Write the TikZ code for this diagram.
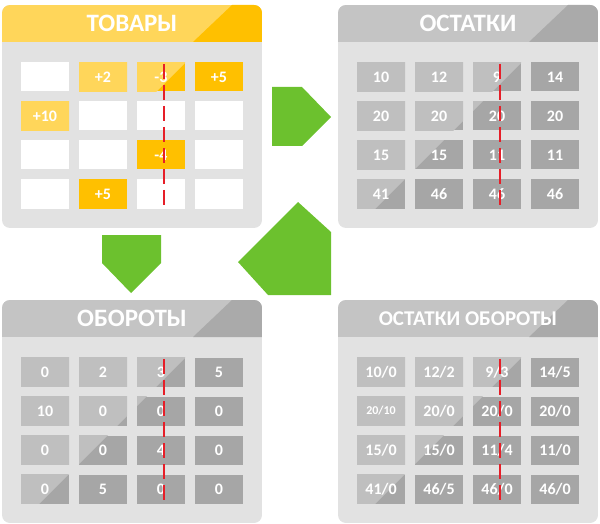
\documentclass[tikz,border=0pt]{standalone}
\usepackage{fontspec}
\setmainfont{Carlito}
\usetikzlibrary{calc}
\definecolor{GoodsLight}{RGB}{255,214,90}
\definecolor{GoodsDark}{RGB}{255,192,0}
\definecolor{PanelBody}{RGB}{226,226,226}
\definecolor{HeadLight}{RGB}{196,196,196}
\definecolor{HeadDark}{RGB}{170,170,170}
\definecolor{CellLight}{RGB}{191,191,191}
\definecolor{CellDark}{RGB}{166,166,166}
\definecolor{TurnGreen}{RGB}{108,193,46}
\definecolor{CutRed}{RGB}{230,30,40}
\tikzset{
	paneltitle/.style={text=white,inner sep=0pt,font=\bfseries\fontsize{25}{25}\selectfont},
	cellbase/.style={rectangle,minimum width=48pt,minimum height=29pt,inner sep=0pt,
		text=white,font=\bfseries\fontsize{16}{16}\selectfont},
	graycell/.style={cellbase,fill=CellDark,
		path picture={\fill[CellLight] (g0) -- (g1) -- (g2) -- cycle;}},
	goodscell/.style={cellbase,fill=GoodsDark,
		path picture={\fill[GoodsLight] (g0) -- (g1) -- (g2) -- cycle;}},
	blankcell/.style={cellbase,fill=white},
	cutline/.style={draw=CutRed,line width=1.2pt,dash pattern=on 15pt off 6pt},
	turnarrow/.style={fill=TurnGreen},
}
% frame of one table: body, header with its darker corner, helper points
\newcommand{\drawpanel}[2]{%
	\begin{scope}
		\clip[rounded corners=8pt] (0,0) rectangle (260,223);
		\fill[PanelBody] (0,0) rectangle (260,223);
		\fill[#1] (0,0) rectangle (260,37);
		\fill[#2] (230,0) -- (260,0) -- (260,37) -- (191,37) -- cycle;
	\end{scope}
	\coordinate (g0) at (-100,-100);
	\coordinate (g1) at (341,-100);
	\coordinate (g2) at (-100,341);
	\coordinate (cuttop) at (162,59);
	\coordinate (cutbot) at (162,201);
}

\begin{document}
\begin{tikzpicture}[x=1pt,y=-1pt]
	\useasboundingbox (0,0) rectangle (600,524);

	% goods
	\begin{scope}[shift={(2,5)},name prefix=goods-]
		\drawpanel{GoodsLight}{GoodsDark}
		\node[paneltitle] (title) at (130,18) {ТОВАРЫ};
		\foreach \r/\c/\kind/\v in {1/1/blankcell/{},1/2/goodscell/+2,1/3/goodscell/-3,1/4/goodscell/+5,
			2/1/goodscell/+10,2/2/blankcell/{},2/3/blankcell/{},2/4/blankcell/{},
			3/1/blankcell/{},3/2/blankcell/{},3/3/goodscell/-4,3/4/blankcell/{},
			4/1/blankcell/{},4/2/goodscell/+5,4/3/blankcell/{},4/4/blankcell/{}}
		\node[\kind] (c\r\c) at ({43+58*(\c-1)},{72+39*(\r-1)}) {\v};
		\draw[cutline] (cuttop) -- (cutbot);
	\end{scope}

	% stock
	\begin{scope}[shift={(338,5)},name prefix=stock-]
		\drawpanel{HeadLight}{HeadDark}
		\node[paneltitle] (title) at (130,18) {ОСТАТКИ};
		\foreach \row [count=\r] in {{10,12,9,14},{20,20,20,20},{15,15,11,11},{41,46,46,46}}
		\foreach \v [count=\c] in \row
		\node[graycell] (c\r\c) at ({43+58*(\c-1)},{72+39*(\r-1)}) {\v};
		\draw[cutline] (cuttop) -- (cutbot);
	\end{scope}

	% turnover
	\begin{scope}[shift={(2,300)},name prefix=turn-]
		\drawpanel{HeadLight}{HeadDark}
		\node[paneltitle] (title) at (130,18) {ОБОРОТЫ};
		\foreach \row [count=\r] in {{0,2,3,5},{10,0,0,0},{0,0,4,0},{0,5,0,0}}
		\foreach \v [count=\c] in \row
		\node[graycell] (c\r\c) at ({43+58*(\c-1)},{72+39*(\r-1)}) {\v};
		\draw[cutline] (cuttop) -- (cutbot);
	\end{scope}

	% stock and turnover
	\begin{scope}[shift={(338,300)},name prefix=both-]
		\drawpanel{HeadLight}{HeadDark}
		\node[paneltitle,font=\bfseries\fontsize{21}{21}\selectfont] (title) at (130,19) {ОСТАТКИ ОБОРОТЫ};
		\foreach \row [count=\r] in {{10/0,12/2,9/3,14/5},{20/10,20/0,20/0,20/0},{15/0,15/0,11/4,11/0},{41/0,46/5,46/0,46/0}}
		\foreach \v [count=\c] in \row {
			\ifnum\r\c=21 \def\cellsize{12}\else\def\cellsize{16}\fi
			\node[graycell,font=\bfseries\fontsize{\cellsize}{\cellsize}\selectfont] (c\r\c) at ({43+58*(\c-1)},{72+39*(\r-1)}) {\v};
		}
		\draw[cutline] (cuttop) -- (cutbot);
	\end{scope}

	% green arrows
	\fill[turnarrow] (272,87) -- (302,87) -- (331,117) -- (302,146) -- (272,146) -- cycle;
	\fill[turnarrow] (102,235) -- (161,235) -- (161,263) -- (131,293) -- (102,263) -- cycle;
	\fill[turnarrow] (298,202) -- (331,232) -- (331,295) -- (268,295) -- (238,262) -- cycle;
\end{tikzpicture}
\end{document}
